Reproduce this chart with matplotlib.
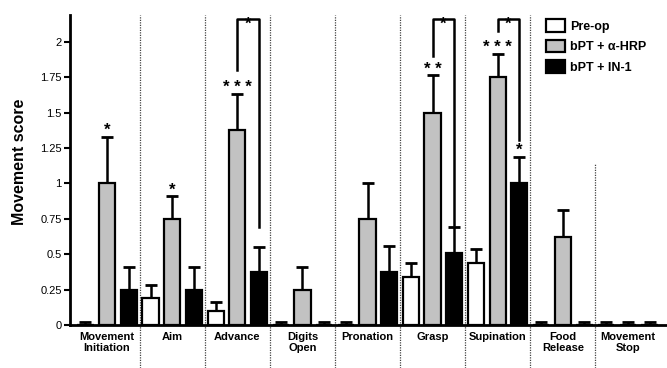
import numpy as np
import matplotlib.pyplot as plt
from matplotlib.lines import Line2D

# ---------------- DATA ----------------
categories = ["Movement\nInitiation", "Aim", "Advance", "Digits\nOpen", "Pronation",
              "Grasp", "Supination", "Food\nRelease", "Movement\nStop"]
series_names = ["Pre-op", "bPT + \u03b1-HRP", "bPT + IN-1"]

preop = [0, 0.19, 0.10, 0, 0, 0.337, 0.436, 0, 0]
preop_err = [0.02, 0.09, 0.06, 0.02, 0.02, 0.10, 0.10, 0.02, 0.02]
hrp = [1.0, 0.75, 1.375, 0.25, 0.75, 1.5, 1.75, 0.625, 0]
hrp_err = [0.33, 0.16, 0.26, 0.16, 0.25, 0.265, 0.165, 0.185, 0.02]
in1 = [0.25, 0.25, 0.377, 0, 0.377, 0.507, 1.0, 0, 0]
in1_err = [0.16, 0.16, 0.176, 0.02, 0.18, 0.185, 0.19, 0.02, 0.02]

# significance stars: (category index, series index, label)
stars = [(0, 1, "*"), (1, 1, "*"), (2, 1, "* * *"), (5, 1, "* *"),
         (6, 1, "* * *"), (6, 2, "*")]
# brackets between alpha-HRP and IN-1: (category index, left leg end, right leg end)
brackets = [(2, 1.80, 0.695), (5, 1.90, 0.705), (6, 2.08, 1.31)]
bracket_top = 2.165

# ---------------- PLOT ----------------
plt.rcParams["font.family"] = ["Liberation Sans", "DejaVu Sans"]

fig = plt.figure(figsize=(6.67, 3.68), dpi=100)
ax = fig.add_axes([70 / 667, 43 / 368, 597 / 667, 310 / 368])

x = np.arange(len(categories))
offset = 0.332
width = 0.25
values = [preop, hrp, in1]
errors = [preop_err, hrp_err, in1_err]
colors = ["white", "#c2c2c2", "black"]

handles = []
for k in range(3):
    pos = x + (k - 1) * offset
    b = ax.bar(pos, values[k], width, color=colors[k], edgecolor="black",
               linewidth=1.6, zorder=3, label=series_names[k])
    ax.errorbar(pos, values[k], yerr=[np.zeros(len(x)), errors[k]], fmt="none",
                ecolor="black", elinewidth=1.8, capsize=4, capthick=2, zorder=2)
    handles.append(b)

# significance stars
for ci, si, lab in stars:
    top = values[si][ci] + errors[si][ci]
    ax.text(x[ci] + (si - 1) * offset, top - 0.01, lab, ha="center", va="bottom",
            fontsize=12, fontweight="bold", zorder=5)

# brackets
for ci, yl, yr in brackets:
    xl = x[ci]
    xr = x[ci] + offset
    ax.plot([xl, xl, xr, xr], [yl, bracket_top, bracket_top, yr], color="black",
            lw=1.8, clip_on=False, zorder=4)
    ax.text((xl + xr) / 2, bracket_top - 0.09, "*", ha="center", va="bottom",
            fontsize=12, fontweight="bold", clip_on=False, zorder=5)

# dotted separators between categories
for i in range(len(categories) - 1):
    y0 = 0.52 if i == len(categories) - 2 else 1.0
    ax.add_line(Line2D([i + 0.5, i + 0.5], [-0.14, y0], transform=ax.get_xaxis_transform(),
                       color="#444444", lw=0.9, ls=(0, (1, 1)), clip_on=False))

ax.set_xlim(-0.57, 8.6)
ax.set_ylim(0, 2.19)
ax.set_yticks([0, 0.25, 0.5, 0.75, 1, 1.25, 1.5, 1.75, 2])
ax.set_yticklabels(["0", "0.25", "0.5", "0.75", "1", "1.25", "1.5", "1.75", "2"], fontsize=8)
ax.set_xticks(x)
ax.set_xticklabels(categories, fontsize=8, fontweight="bold", linespacing=1.1)
ax.tick_params(axis="x", length=0, pad=5)
ax.tick_params(axis="y", direction="out", length=4, width=1.5, pad=2)
ax.set_ylabel("Movement score", fontsize=11.5, fontweight="bold")
ax.yaxis.set_label_coords(-43 / 597, (325 - 162) / 310)

for s in ["top", "right"]:
    ax.spines[s].set_visible(False)
ax.spines["left"].set_linewidth(2)
ax.spines["bottom"].set_linewidth(2)

ax.legend(handles=handles, loc="upper left", bbox_to_anchor=(546 / 667, 1 - 19 / 368),
          bbox_transform=fig.transFigure, frameon=False, borderpad=0, borderaxespad=0,
          handlelength=1.5, handleheight=1.2, handletextpad=0.45, labelspacing=0.55,
          prop={"size": 9, "weight": "bold"})

fig.savefig("out.png", dpi=100)
